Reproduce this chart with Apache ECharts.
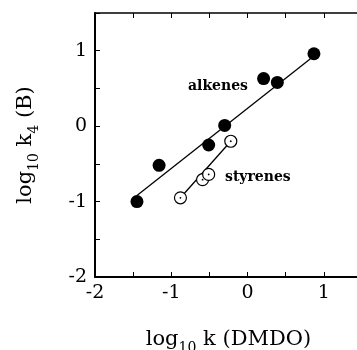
<!DOCTYPE html>
<html lang="en">
<head>
  <meta charset="UTF-8">
  <title>log k4 vs log k DMDO</title>
  <script src="https://cdn.jsdelivr.net/npm/echarts@6/dist/echarts.min.js"></script>
  <style>
    html, body { margin: 0; padding: 0; background: #fff; }
    #chart { width: 357px; height: 350px; }
  </style>
</head>
<body>
  <div id="chart"></div>
  <script>
    // alkenes (filled circles)
    var alkeneX = [-1.45, -1.16, -0.51, -0.30, 0.21, 0.39, 0.87];
    var alkeneY = [-1.00, -0.52, -0.25, 0.01, 0.63, 0.58, 0.96];
    // fitted line ends for alkenes
    var alkeneFitX = [-1.45, 0.87];
    var alkeneFitY = [-0.92, 0.93];

    // styrenes (open circles)
    var styreneX = [-0.88, -0.59, -0.51, -0.22];
    var styreneY = [-0.95, -0.71, -0.64, -0.20];
    var styreneFitX = [-0.88, -0.22];
    var styreneFitY = [-0.95, -0.20];

    var xTicks = [-2, -1, 0, 1];
    var yTicks = [-2, -1, 0, 1];

    function pairs(xs, ys) {
      var out = [];
      for (var i = 0; i < xs.length; i++) out.push([xs[i], ys[i]]);
      return out;
    }

    var font = 'DejaVu Serif';
    var tickFmt = function (list) {
      return function (v) {
        for (var i = 0; i < list.length; i++) {
          if (Math.abs(list[i] - v) < 1e-6) return String(list[i]);
        }
        return '';
      };
    };

    var axisCommon = {
      type: 'value',
      min: -2,
      max: 1.5,
      interval: 0.5,
      splitLine: { show: false },
      axisLine: { show: true, onZero: false, lineStyle: { color: '#000', width: 2 } },
      axisTick: { show: true, inside: true, length: 5, lineStyle: { color: '#000', width: 1 } }
    };

    var nameRich = {
      m: { fontFamily: font, fontSize: 21, color: '#000', lineHeight: 30, verticalAlign: 'middle' },
      s: { fontFamily: font, fontSize: 14, color: '#000', lineHeight: 30, verticalAlign: 'bottom' }
    };

    var chart = echarts.init(document.getElementById('chart'));

    var option = {
      animation: false,
      grid: { left: 95, top: 13, right: -5, bottom: 73, outerBoundsMode: 'none', containLabel: false },
      xAxis: [
        Object.assign({}, axisCommon, {
          position: 'bottom',
          name: '{m|log}{s|10}{m| k (DMDO)}',
          nameLocation: 'middle',
          nameGap: 48,
          nameTextStyle: { rich: nameRich },
          axisLabel: { formatter: tickFmt(xTicks), fontFamily: font, fontSize: 19, color: '#000', margin: 7 }
        }),
        Object.assign({}, axisCommon, {
          position: 'top',
          axisLine: { show: true, onZero: false, lineStyle: { color: '#000', width: 1.5 } },
          axisLabel: { show: false }
        })
      ],
      yAxis: [
        Object.assign({}, axisCommon, {
          position: 'left',
          name: '{m|log}{s|10}{m| k}{s|4}{m| (B)}',
          nameLocation: 'middle',
          nameRotate: 90,
          nameGap: 54,
          nameTextStyle: { rich: nameRich },
          axisLabel: { formatter: tickFmt(yTicks), fontFamily: font, fontSize: 19, color: '#000', margin: 8 }
        }),
        Object.assign({}, axisCommon, {
          position: 'right',
          axisLine: { show: true, onZero: false, lineStyle: { color: '#000', width: 1.5 } },
          axisLabel: { show: false }
        })
      ],
      graphic: [
        { type: 'text', left: 188, top: 79, style: { text: 'alkenes', fontFamily: font, fontWeight: 'bold', fontSize: 14, fill: '#000' } },
        { type: 'text', left: 225, top: 170, style: { text: 'styrenes', fontFamily: font, fontWeight: 'bold', fontSize: 14, fill: '#000' } }
      ],
      series: [
        {
          type: 'line',
          data: pairs(alkeneFitX, alkeneFitY),
          showSymbol: false,
          lineStyle: { color: '#000', width: 1.3 },
          z: 1
        },
        {
          type: 'line',
          data: pairs(styreneFitX, styreneFitY),
          showSymbol: false,
          lineStyle: { color: '#000', width: 1.3 },
          z: 1
        },
        {
          type: 'scatter',
          data: pairs(alkeneX, alkeneY),
          symbol: 'circle',
          symbolSize: 13,
          itemStyle: { color: '#000', opacity: 1 },
          z: 3
        },
        {
          type: 'scatter',
          data: pairs(styreneX, styreneY),
          symbol: 'circle',
          symbolSize: 12,
          itemStyle: { color: '#fff', borderColor: '#000', borderWidth: 1.2, opacity: 1 },
          z: 3
        },
        {
          type: 'scatter',
          data: pairs(styreneX, styreneY),
          symbol: 'circle',
          symbolSize: 1.8,
          itemStyle: { color: '#000', opacity: 1 },
          z: 4
        }
      ]
    };

    chart.setOption(option);
  </script>
</body>
</html>
